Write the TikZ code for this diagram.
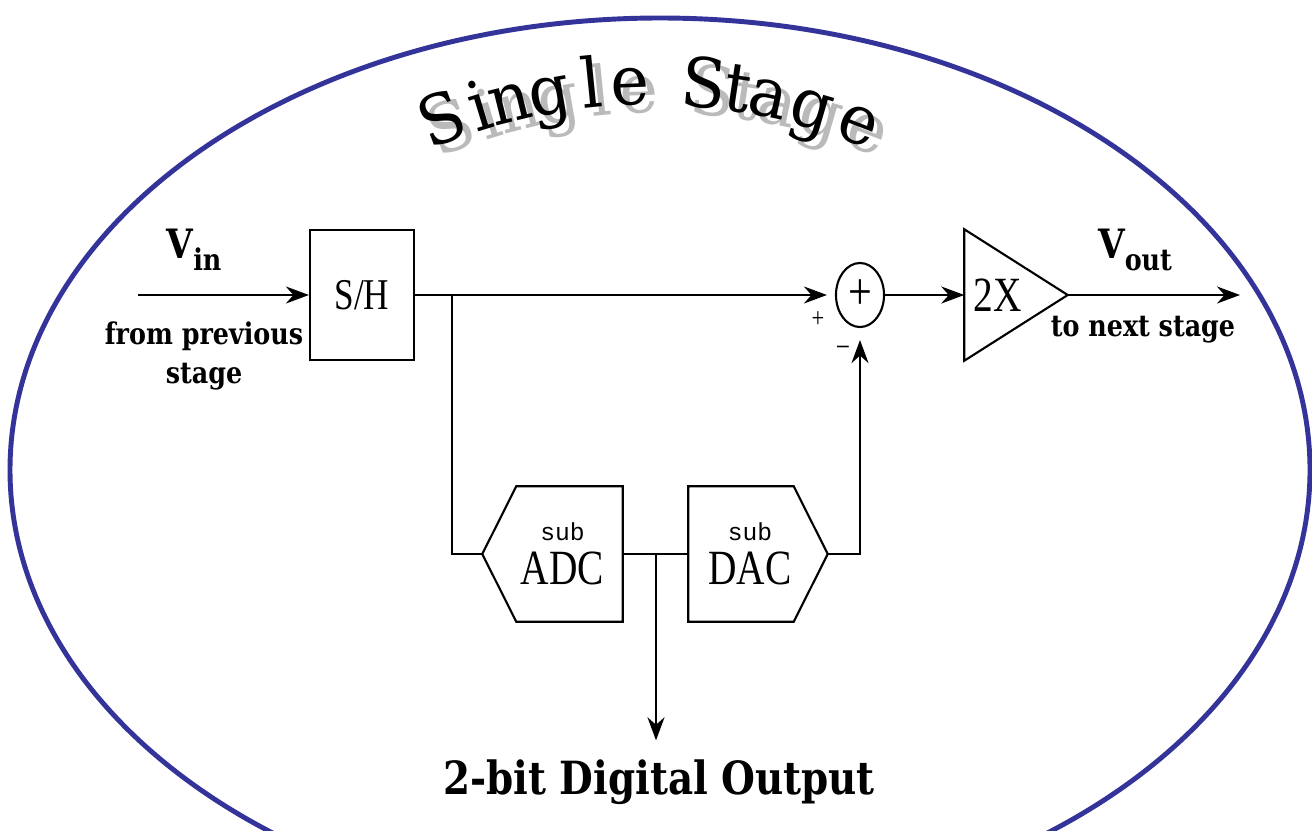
\documentclass[tikz,border=0pt]{standalone}
\usepackage{fontspec}
\newfontfamily\headfont[FakeStretch=0.95]{DejaVu Serif}
\newfontfamily\blockfont[FakeStretch=0.8]{Liberation Serif}
\newfontfamily\tagfont[FakeStretch=0.85]{DejaVu Serif}
\newfontfamily\subfont{Liberation Mono}
\usetikzlibrary{arrows.meta,shapes.geometric}

\definecolor{rimblue}{RGB}{51,51,153}

\begin{document}
\begin{tikzpicture}[x=0.01cm,y=-0.01cm]
\tikzset{
  blockline/.style={draw=black,line width=0.6pt,line join=miter},
  sigline/.style={draw=black,line width=0.6pt},
  sigarrow/.style={sigline,-{Stealth[length=2.3mm,width=1.7mm]}},
  blockbox/.style={rectangle,inner sep=0pt,font=\blockfont\fontsize{14}{14}\selectfont},
  tag/.style={font=\tagfont\bfseries\fontsize{8.5}{11}\selectfont,inner sep=1pt,align=center},
  bigtag/.style={font=\tagfont\bfseries\fontsize{11.5}{12}\selectfont,inner sep=1pt},
  titleletter/.style={anchor=base,inner sep=0pt,font=\headfont\fontsize{19.5}{20}\selectfont}
}
\useasboundingbox (0,0) rectangle (1312,830);
\clip (0,0) rectangle (1312,830);
% outline
\draw[rimblue,line width=1.4pt] (660,470) ellipse [x radius=650,y radius=452];

% title on an arc, grey shadow first
\foreach \ch/\a [count=\k] in {S/-20.92,i/-17.03,n/-13.95,g/-9.97,l/-5.74,e/-1.94,
    S/5.33,t/8.63,a/11.85,g/16.28,e/21.14}{
  \node[titleletter,text=black!27,rotate=-\a] (n_ts\k)
    at ({659+560*sin(\a)},{673-560*cos(\a)}) {\ch};
}
\foreach \ch/\a [count=\k] in {S/-20.92,i/-17.03,n/-13.95,g/-9.97,l/-5.74,e/-1.94,
    S/5.33,t/8.63,a/11.85,g/16.28,e/21.14}{
  \node[titleletter,rotate=-\a] (n_t\k)
    at ({650+560*sin(\a)},{665-560*cos(\a)}) {\ch};
}

% blocks
\node[blockbox,draw,line width=0.6pt,minimum width=1.04cm,minimum height=1.30cm,
  font=\blockfont\fontsize{12.5}{12.5}\selectfont] (n_sh) at (362,295) {S/H};
\node[ellipse,draw,line width=0.6pt,inner sep=0pt,minimum width=0.48cm,minimum height=0.64cm,
  font=\blockfont\fontsize{15}{15}\selectfont] (n_sum) at (860,295) {+};
\node[blockbox,minimum width=1.02cm,minimum height=1.30cm] (n_amp) at (1016,295) {2X\kern0.36cm};
\draw[blockline] (n_amp.north west) -- (n_amp.east) -- (n_amp.south west) -- cycle;
\node[blockbox,minimum width=1.39cm,minimum height=1.34cm,align=center] (n_adc) at (552.5,554)
  {\kern0.2cm\shortstack{{\subfont\fontsize{7}{7}\selectfont sub}\\ADC}};
\draw[blockline] (n_adc.west) -- ([xshift=0.34cm]n_adc.north west) -- (n_adc.north east)
  -- (n_adc.south east) -- ([xshift=0.34cm]n_adc.south west) -- cycle;
\node[blockbox,minimum width=1.38cm,minimum height=1.34cm,align=center] (n_dac) at (758,554)
  {\shortstack{{\subfont\fontsize{7}{7}\selectfont sub}\\DAC}\kern0.16cm};
\draw[blockline] (n_dac.north west) -- ([xshift=-0.34cm]n_dac.north east) -- (n_dac.east)
  -- ([xshift=-0.34cm]n_dac.south east) -- (n_dac.south west) -- cycle;

% labels
\node[bigtag] (n_vin_lbl) at (194,250) {V\raisebox{-0.3em}{\fontsize{8.5}{9}\selectfont in}};
\node[tag] (n_from) at (204,356) {from previous\\stage};
\node[bigtag] (n_vout_lbl) at (1135,250) {V\raisebox{-0.3em}{\fontsize{8.5}{9}\selectfont out}};
\node[tag] (n_next) at (1143,330) {to next stage};
\node[bigtag,font=\tagfont\bfseries\fontsize{13}{13}\selectfont] (n_dout) at (659,782) {2-bit Digital Output};
\node[inner sep=0pt,font=\blockfont\fontsize{8}{8}\selectfont] (n_plus) at (818,320) {+};
\node[inner sep=0pt,font=\blockfont\fontsize{9}{9}\selectfont] (n_minus) at (843,352) {−};

% signal path
\coordinate (n_vin) at (138,295);
\coordinate (n_split) at (452,295);
\coordinate (n_tap) at (656,554);
\coordinate (n_vend) at (1240,295);
\draw[sigarrow] (n_vin) -- (n_sh.west);
\draw[sigarrow,shorten >=0.08cm] (n_sh.east) -- (n_sum.west);
\draw[sigline] (n_split) |- (n_adc.west);
\draw[sigline] (n_adc.east) -- (n_dac.west);
\draw[sigarrow,shorten >=0.15cm] (n_tap) -- (n_tap |- n_dout.north);
\draw[sigarrow,shorten >=0.12cm] (n_dac.east) -| (n_sum.south);
\draw[sigarrow] (n_sum.east) -- (n_amp.west);
\draw[sigarrow] (n_amp.east) -- (n_vend);
\end{tikzpicture}
\end{document}
